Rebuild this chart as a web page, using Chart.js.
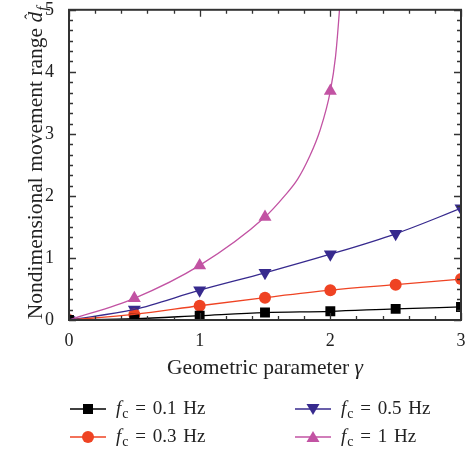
<!DOCTYPE html>
<html>
<head>
<meta charset="utf-8">
<script src="https://cdn.jsdelivr.net/npm/chart.js@4/dist/chart.umd.min.js"></script>
<style>
  html, body { margin: 0; padding: 0; background: #fff; overflow: hidden; }
  #wrap { position: relative; width: 469px; height: 453px; overflow: hidden; }
  #myChart { position: absolute; left: 0; top: -8px; }
  #legend { position: absolute; left: 0; top: 0; width: 469px; height: 453px; pointer-events: none;
            font-family: "Liberation Serif", "DejaVu Serif", serif; font-size: 19px; color: #222; }
  .item { position: absolute; display: flex; align-items: center; white-space: nowrap; height: 22px; }
  .item svg { margin-right: 10px; }
  .item span { word-spacing: 2px; }
  .item i { font-style: italic; }
  .item sub { font-size: 14px; vertical-align: -4px; margin-left: 1px; }
</style>
</head>
<body>
<div id="wrap">
  <canvas id="myChart" width="469" height="461"></canvas>
  <div id="legend"></div>
</div>
<script>
// gamma values where the markers sit
const gammaMarks = [0, 0.5, 1, 1.5, 2, 2.5, 3];
const gammaMarksPink = [0, 0.5, 1, 1.5, 2];

// values
const range01 = [0, 0.02, 0.07, 0.12, 0.14, 0.18, 0.21];
const range03 = [0, 0.09, 0.23, 0.36, 0.48, 0.57, 0.66];
const range05 = [0, 0.17, 0.48, 0.76, 1.06, 1.39, 1.80];
const range1 = [0, 0.35, 0.88, 1.66, 3.69];

// extra points traced along the 1 Hz curve where it shoots up
const curve1X = [0, 0.5, 1, 1.5, 1.65, 1.75, 1.84, 1.92, 2, 2.04, 2.07, 2.085];
const curve1Y = [0, 0.35, 0.88, 1.66, 2.0, 2.27, 2.63, 3.05, 3.69, 4.25, 5.0, 5.5];

const labels = ['f_c = 0.1 Hz', 'f_c = 0.3 Hz', 'f_c = 0.5 Hz', 'f_c = 1 Hz'];
const colors = ['#000000', '#ef4323', '#372a8e', '#c253a3'];

const serif = '"Liberation Serif", "DejaVu Serif", serif';

function pts(xs, ys) {
    return xs.map((x, i) => ({ x: x, y: ys[i] }));
}

function lineSet(data, color) {
    return {
        data: data, showLine: true, borderColor: color, borderWidth: 1.3, pointRadius: 0,
        cubicInterpolationMode: 'monotone', fill: false, clip: 0
    };
}
function markSet(data, color, style, radius, rotation) {
    return {
        data: data, showLine: false, pointStyle: style, pointRadius: radius,
        pointRotation: rotation || 0, backgroundColor: color, borderColor: color,
        borderWidth: 0, pointHoverRadius: radius, clip: 0
    };
}

// frame, inward ticks and axis titles
const framePlugin = {
    id: 'frame',
    afterDraw(chart) {
        const ctx = chart.ctx;
        const a = chart.chartArea;
        const xs = chart.scales.x, ys = chart.scales.y;
        ctx.save();
        ctx.strokeStyle = '#333';
        ctx.lineWidth = 1.3;
        for (let i = 0; i <= 15; i++) {
            const px = Math.round(xs.getPixelForValue(i * 0.2)) + 0.5;
            const len = (i % 5 === 0) ? 7 : 4;
            ctx.beginPath();
            ctx.moveTo(px, a.bottom); ctx.lineTo(px, a.bottom - len);
            ctx.moveTo(px, a.top); ctx.lineTo(px, a.top + len);
            ctx.stroke();
        }
        for (let i = 0; i <= 30; i++) {
            const py = Math.round(ys.getPixelForValue(i / 6)) + 0.5;
            const len = (i % 6 === 0) ? 7 : 4;
            ctx.beginPath();
            ctx.moveTo(a.left, py); ctx.lineTo(a.left + len, py);
            ctx.moveTo(a.right, py); ctx.lineTo(a.right - len, py);
            ctx.stroke();
        }
        ctx.lineWidth = 2;
        ctx.strokeRect(a.left, a.top, a.right - a.left, a.bottom - a.top);

        // x title (canvas sits 8px higher than the page)
        ctx.fillStyle = '#222';
        ctx.textBaseline = 'alphabetic';
        ctx.textAlign = 'left';
        ctx.font = '21.5px ' + serif;
        const t1 = 'Geometric parameter ';
        const w1 = ctx.measureText(t1).width;
        ctx.font = 'italic 21.5px ' + serif;
        const w2 = ctx.measureText('γ').width;
        const sx = 265 - (w1 + w2) / 2;
        ctx.font = '21.5px ' + serif;
        ctx.fillText(t1, sx, 382);
        ctx.font = 'italic 21.5px ' + serif;
        ctx.fillText('γ', sx + w1, 382);

        // y title, rotated
        ctx.translate(42, 171);
        ctx.rotate(-Math.PI / 2);
        ctx.font = '21.5px ' + serif;
        const y1 = 'Nondimensional movement range ';
        const yw1 = ctx.measureText(y1).width;
        ctx.font = 'italic 21.5px ' + serif;
        const yw2 = ctx.measureText('d').width;
        ctx.font = 'italic 15px ' + serif;
        const yw3 = ctx.measureText('f').width;
        const s = -(yw1 + yw2 + yw3 + 1) / 2;
        ctx.font = '21.5px ' + serif;
        ctx.fillText(y1, s, 0);
        ctx.font = 'italic 21.5px ' + serif;
        ctx.fillText('d', s + yw1, 0);
        ctx.font = '17px ' + serif;
        ctx.fillText('ˆ', s + yw1 + 3, -6);
        ctx.font = 'italic 15px ' + serif;
        ctx.fillText('f', s + yw1 + yw2 + 1, 5);
        ctx.restore();
    }
};

const ctx = document.getElementById('myChart').getContext('2d');
new Chart(ctx, {
    type: 'scatter',
    data: {
        datasets: [
            lineSet(pts(gammaMarks, range01), colors[0]),
            lineSet(pts(gammaMarks, range03), colors[1]),
            lineSet(pts(gammaMarks, range05), colors[2]),
            lineSet(pts(curve1X, curve1Y), colors[3]),
            markSet(pts(gammaMarks, range01), colors[0], 'rect', 7),
            markSet(pts(gammaMarks, range03), colors[1], 'circle', 6),
            markSet(pts(gammaMarks, range05), colors[2], 'triangle', 7.5, 180),
            markSet(pts(gammaMarksPink, range1), colors[3], 'triangle', 7.5)
        ]
    },
    options: {
        responsive: false,
        animation: false,
        events: [],
        layout: { padding: { left: 0, right: 8, top: 2, bottom: 93 } },
        plugins: { legend: { display: false }, tooltip: { enabled: false } },
        scales: {
            x: {
                type: 'linear', min: 0, max: 3,
                grid: { display: false },
                border: { display: false },
                ticks: { stepSize: 1, padding: 2, color: '#222', font: { family: serif, size: 18 } },
                afterFit(scale) { scale.height = 40; }
            },
            y: {
                type: 'linear', min: 0, max: 5,
                grid: { display: false },
                border: { display: false },
                ticks: { stepSize: 1, padding: 7, color: '#222', font: { family: serif, size: 18 } },
                afterFit(scale) { scale.width = 69; }
            }
        }
    },
    plugins: [framePlugin]
});

// legend built in HTML so the f and the subscript c can be styled
const legendPos = [[70, 409], [70, 437], [295, 409], [295, 437]];
const legendMark = [
    '<rect x="13" y="2" width="10" height="10" fill="C"/>',
    '<circle cx="18" cy="7" r="6" fill="C"/>',
    '<polygon points="11.5,2 24.5,2 18,13" fill="C"/>',
    '<polygon points="11.5,12 24.5,12 18,1" fill="C"/>'
];
const legendDiv = document.getElementById('legend');
labels.forEach((lab, i) => {
    const val = lab.split('= ')[1];
    const el = document.createElement('div');
    el.className = 'item';
    el.style.left = legendPos[i][0] + 'px';
    el.style.top = (legendPos[i][1] - 11) + 'px';
    el.innerHTML =
        '<svg width="36" height="14"><line x1="0" y1="7" x2="36" y2="7" stroke="' + colors[i] +
        '" stroke-width="1.5"/>' + legendMark[i].replace('C', colors[i]) + '</svg>' +
        '<span><i>f</i><sub>c</sub> = ' + val + '</span>';
    legendDiv.appendChild(el);
});
</script>
</body>
</html>
